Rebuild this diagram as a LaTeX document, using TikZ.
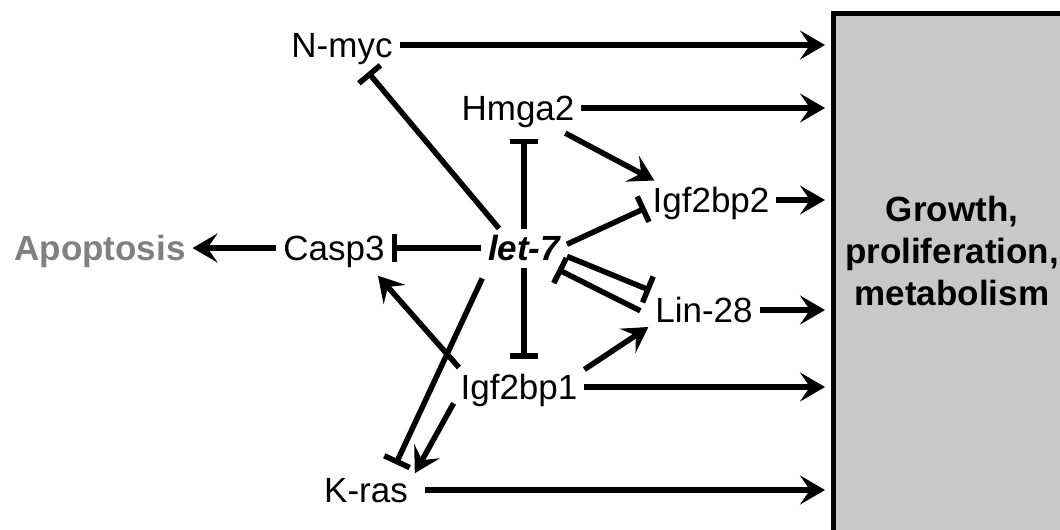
\documentclass[tikz,border=0pt]{standalone}
\usepackage{fontspec}
\setmainfont{Liberation Sans}
\usetikzlibrary{arrows.meta}

\definecolor{boxgray}{HTML}{C8C8C8}
\definecolor{apogray}{HTML}{808080}

\begin{document}
\begin{tikzpicture}[x=1pt, y=-1pt,
    gene/.style={font=\fontsize{35}{42}\selectfont, inner sep=0pt, outer sep=7pt, text height=25pt, text depth=0pt},
    act/.style={line width=5.5pt, -{Stealth[length=25pt,width=29pt,inset=10pt]}},
    inh/.style={line width=5.5pt, -{Bar[width=28pt]}},
    flow/.style={act, shorten >=8pt}]
  \useasboundingbox (0,0) rectangle (1060,530);

  \node [minimum width=227pt, minimum height=517pt, inner sep=0pt, outer sep=0pt, fill=boxgray] (box) at (946.5,271.5) {}; % grey box
  \draw [line width=5pt] (box.south west) -- (box.north west) -- (box.north east); % box border
  \node [font=\fontsize{35}{42}\selectfont\bfseries, align=center, inner sep=0pt] (growth) at (952,251) {Growth,\\proliferation,\\metabolism};

  \node [gene] (nmyc) at (342,45) {N-myc};
  \node [gene] (hmga2) at (518,108) {Hmga2};
  \node [gene] (igf2bp2) at (711,200) {Igf2bp2};
  \node [gene, font=\fontsize{35}{42}\selectfont\bfseries\itshape] (let7) at (524,248) {let-7};
  \node [gene] (casp3) at (334,248) {Casp3};
  \node [gene] (lin28) at (704,310) {Lin-28};
  \node [gene] (igf2bp1) at (519,387) {Igf2bp1};
  \node [gene] (kras) at (366,490) {K-ras};
  \node [gene, font=\fontsize{35}{42}\selectfont\bfseries, text=apogray] (apop) at (100,248) {Apoptosis};

  % arrows into the box
  \draw [flow] (nmyc) -- (nmyc -| box.west);
  \draw [flow] (hmga2) -- (hmga2 -| box.west);
  \draw [flow] (igf2bp2) -- (igf2bp2 -| box.west);
  \draw [flow] (lin28) -- (lin28 -| box.west);
  \draw [flow] (igf2bp1) -- (igf2bp1 -| box.west);
  \draw [flow, shorten <=10pt] (kras) -- (kras -| box.west);

  \draw [act] (casp3) -- (apop);
  \draw [inh] (let7) -- (casp3);
  \draw [inh, shorten >=10pt] (let7.142) -- (nmyc.-45);
  \draw [inh, shorten >=11pt] (let7.north) -- (let7.north |- hmga2.south);
  \draw [inh, shorten >=9pt] (let7.south) -- (let7.south |- igf2bp1.north);
  \draw [act, shorten <=12pt] (hmga2.-28) -- (igf2bp2.161);
  \draw [inh] (let7.5) -- (igf2bp2.187);
  \draw [inh] (let7.-11) -- (lin28.160);
  \draw [inh, shorten <=9pt, shorten >=4pt] (lin28.185) -- (let7.-33);
  \draw [act] (igf2bp1.15) -- (lin28.197);
  \draw [inh, shorten <=12pt, shorten >=7pt] (let7.208) -- (kras.36);
  \draw [act, shorten >=11pt] (igf2bp1.162) -- (casp3.-28);
  \draw [act] (igf2bp1.194) -- (kras.19);
\end{tikzpicture}
\end{document}
